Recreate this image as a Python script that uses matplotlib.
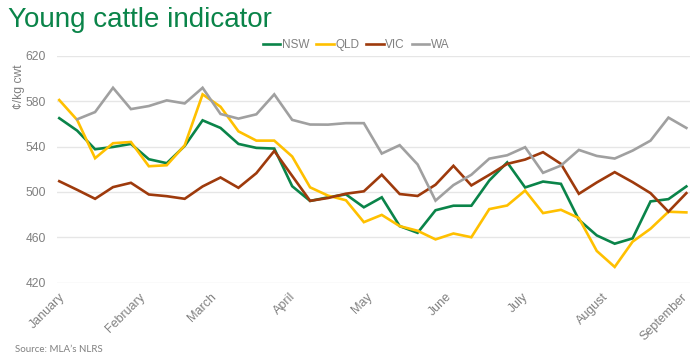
import numpy as np
import matplotlib
matplotlib.use("Agg")
import matplotlib.pyplot as plt

plt.rcParams['font.family'] = ['Liberation Sans', 'DejaVu Sans']

# Weekly observations (days since 1 January)
days = list(range(0, 246, 7))

nsw = [565, 554, 537.6, 539.6, 542.3, 528.8, 525.3, 540.5, 563.1, 556.4, 542.3, 538.8,
       538.2, 505, 492, 495.2, 497.8, 486.4, 495.2, 469.8, 463.9, 483.8, 487.8, 487.8,
       510, 526, 503.9, 509.1, 507.1, 475.4, 461.6, 454.3, 459, 491.6, 493.6, 504.8]
qld = [581, 563.4, 529.7, 542.9, 544, 522.6, 523.5, 541, 586, 575.1, 553.4, 545.2,
       545.2, 531.2, 504, 496.7, 492.6, 473.3, 479.7, 469.8, 465.7, 458.1, 463.3, 460,
       484.8, 488, 501.2, 481.3, 484.2, 476.9, 447.9, 433.8, 456.1, 467.5, 482.5, 481.9]
vic = [509.4, 501.8, 493.9, 504.2, 508, 497.7, 496.2, 493.9, 504.8, 512.7, 503.6, 516.5,
       536.1, 514.1, 492.1, 494.6, 498.4, 500.5, 515.1, 498.1, 496.4, 506.3, 523, 505.7,
       515, 524.7, 528.5, 535, 524.7, 498.3, 508.3, 517.4, 508.6, 498.9, 482.5, 498.9]
wa = [np.nan, 564, 570.4, 591.8, 573, 575.7, 580.7, 578, 591.8, 568.7, 564.6, 568.4,
      586, 563.5, 559.4, 559.3, 560.6, 560.6, 533.8, 541.2, 524.2, 492.3, 506, 515.1,
      529.3, 532.3, 539.4, 516.8, 523.2, 537, 531.7, 529.4, 536.4, 545.2, 565.5, 556.4]

series_names = ["NSW", "QLD", "VIC", "WA"]
series_colors = ["#0a8449", "#ffc000", "#9e3a0c", "#a0a0a0"]

month_labels = ["January", "February", "March", "April", "May", "June",
                "July", "August", "September"]
month_days = [0, 31, 59, 90, 120, 151, 181, 212, 243]

y_ticks = [420, 460, 500, 540, 580, 620]

fig = plt.figure(figsize=(7, 3.6), dpi=100)
ax = fig.add_axes([0.081, 0.215, 0.905, 0.63])

for name, vals, col in zip(series_names, [nsw, qld, vic, wa], series_colors):
    ax.plot(days, vals, color=col, lw=1.9, label=name, solid_joinstyle='miter')

ax.set_xlim(-1, 246.5)
ax.set_ylim(420, 620)
ax.set_yticks(y_ticks)
ax.set_yticklabels([str(v) for v in y_ticks])
ax.set_xticks(month_days)
ax.set_xticklabels(month_labels, rotation=45, ha='right', rotation_mode='anchor')
ax.tick_params(axis='x', length=0, pad=6, labelsize=9, colors='#808080')
ax.tick_params(axis='y', length=0, pad=8, labelsize=8.7, colors='#808080')
ax.yaxis.grid(True, color='#e6e6e6', lw=1)
ax.set_axisbelow(True)
for s in ax.spines.values():
    s.set_visible(False)

fig.text(19 / 700, 1 - 87 / 360, "¢/kg cwt", rotation=90, ha='center', va='center',
         fontsize=8.7, color='#808080')

fig.text(8 / 700, 1 - 27 / 360, "Young cattle indicator", fontsize=20,
         color='#0a8449', ha='left', va='baseline')

leg = fig.legend(loc='center', bbox_to_anchor=(356 / 700, 1 - 45 / 360), ncol=4,
                 frameon=False, fontsize=8.5, handlelength=1.5, handletextpad=0.1,
                 columnspacing=0.6)
for t in leg.get_texts():
    t.set_color('#808080')

fig.text(15 / 700, 1 - 352 / 360, "Source: MLA\u2019s NLRS", fontsize=7,
         color='#808080', ha='left', va='baseline', family=['Lato', 'DejaVu Sans'])

fig.savefig("out.png", dpi=100)
